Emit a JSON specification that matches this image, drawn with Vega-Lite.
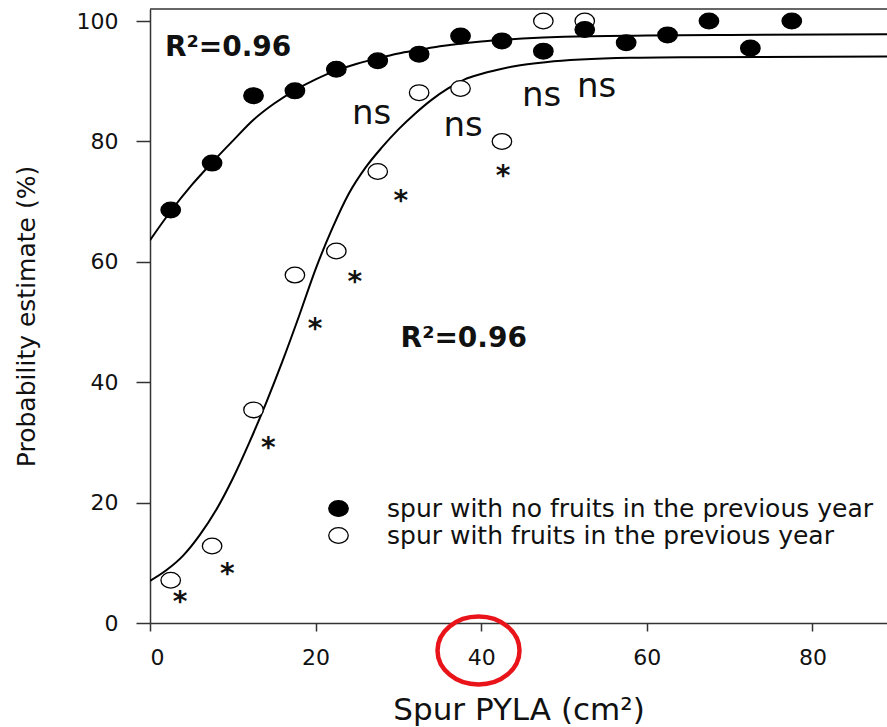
{
  "$schema": "https://vega.github.io/schema/vega-lite/v6.json",
  "width": 737,
  "height": 614,
  "autosize": {"type": "none"},
  "padding": {"left": 150, "top": 9, "right": 0, "bottom": 104},
  "background": "white",
  "config": {"view": {"stroke": null}, "font": "DejaVu Sans"},
  "encoding": {
    "x": {
      "field": "x", "type": "quantitative",
      "scale": {"domain": [0, 89], "nice": false, "zero": false},
      "axis": {
        "title": "Spur PYLA (cm²)", "values": [0, 20, 40, 60, 80], "grid": false,
        "domainColor": "#333", "domainWidth": 1.5, "tickColor": "#333", "tickWidth": 1.5, "tickSize": 8,
        "labelFont": "DejaVu Sans", "labelFontSize": 22, "labelColor": "#111", "labelPadding": 16,
        "titleFont": "DejaVu Sans", "titleFontSize": 31, "titleFontWeight": "normal", "titleColor": "#111", "titlePadding": 27
      }
    },
    "y": {
      "field": "y", "type": "quantitative",
      "scale": {"domain": [0, 102], "nice": false, "zero": false},
      "axis": {
        "title": "Probability estimate (%)", "values": [0, 20, 40, 60, 80, 100], "grid": false,
        "domainColor": "#333", "domainWidth": 1.5, "tickColor": "#333", "tickWidth": 1.5, "tickSize": 14,
        "labelFont": "DejaVu Sans", "labelFontSize": 22, "labelColor": "#111", "labelPadding": 18,
        "titleFont": "DejaVu Sans", "titleFontSize": 25, "titleFontWeight": "normal", "titleColor": "#111", "titlePadding": 37
      }
    }
  },
  "layer": [
    {
      "data": {"values": [{"x": 0, "x2": 89, "y": 102}]},
      "mark": {"type": "rule", "color": "#333", "strokeWidth": 1.5},
      "encoding": {"x2": {"field": "x2"}}
    },
    {
      "data": {"values": [{"x": 39.67, "y": -4.57}]},
      "mark": {
        "type": "point", "filled": false, "opacity": 1, "stroke": "#e8141a", "strokeWidth": 4.5, "size": 6724,
        "shape": "M1,0C1,0.458,0.552,0.83,0,0.83C-0.552,0.83,-1,0.458,-1,0C-1,-0.458,-0.552,-0.83,0,-0.83C0.552,-0.83,1,-0.458,1,0Z"
      }
    },
    {
      "data": {"values": [
        {"x": 0, "y": 63.6, "curve": "no fruits"},
        {"x": 2.5, "y": 68.4, "curve": "no fruits"},
        {"x": 5, "y": 72.7, "curve": "no fruits"},
        {"x": 7.5, "y": 76.5, "curve": "no fruits"},
        {"x": 10, "y": 80.1, "curve": "no fruits"},
        {"x": 12.5, "y": 83.6, "curve": "no fruits"},
        {"x": 15, "y": 86.3, "curve": "no fruits"},
        {"x": 17.5, "y": 88.5, "curve": "no fruits"},
        {"x": 20, "y": 90.3, "curve": "no fruits"},
        {"x": 22.5, "y": 91.8, "curve": "no fruits"},
        {"x": 25, "y": 92.9, "curve": "no fruits"},
        {"x": 27.5, "y": 93.8, "curve": "no fruits"},
        {"x": 30, "y": 94.6, "curve": "no fruits"},
        {"x": 32.5, "y": 95.2, "curve": "no fruits"},
        {"x": 35, "y": 95.8, "curve": "no fruits"},
        {"x": 40, "y": 96.6, "curve": "no fruits"},
        {"x": 45, "y": 97.1, "curve": "no fruits"},
        {"x": 50, "y": 97.4, "curve": "no fruits"},
        {"x": 60, "y": 97.6, "curve": "no fruits"},
        {"x": 70, "y": 97.7, "curve": "no fruits"},
        {"x": 89, "y": 97.8, "curve": "no fruits"},
        {"x": 0, "y": 7.0, "curve": "fruits"},
        {"x": 2, "y": 8.8, "curve": "fruits"},
        {"x": 4, "y": 11.2, "curve": "fruits"},
        {"x": 6, "y": 14.6, "curve": "fruits"},
        {"x": 8, "y": 18.8, "curve": "fruits"},
        {"x": 10, "y": 24.0, "curve": "fruits"},
        {"x": 12, "y": 30.0, "curve": "fruits"},
        {"x": 14, "y": 36.5, "curve": "fruits"},
        {"x": 16, "y": 43.5, "curve": "fruits"},
        {"x": 18, "y": 51.0, "curve": "fruits"},
        {"x": 20, "y": 58.8, "curve": "fruits"},
        {"x": 22, "y": 65.5, "curve": "fruits"},
        {"x": 24, "y": 71.3, "curve": "fruits"},
        {"x": 26, "y": 75.6, "curve": "fruits"},
        {"x": 28, "y": 79.0, "curve": "fruits"},
        {"x": 30, "y": 82.0, "curve": "fruits"},
        {"x": 32, "y": 84.6, "curve": "fruits"},
        {"x": 34, "y": 86.9, "curve": "fruits"},
        {"x": 36, "y": 88.8, "curve": "fruits"},
        {"x": 38, "y": 90.3, "curve": "fruits"},
        {"x": 40, "y": 91.2, "curve": "fruits"},
        {"x": 42, "y": 91.9, "curve": "fruits"},
        {"x": 44, "y": 92.5, "curve": "fruits"},
        {"x": 48, "y": 93.2, "curve": "fruits"},
        {"x": 52, "y": 93.6, "curve": "fruits"},
        {"x": 58, "y": 93.9, "curve": "fruits"},
        {"x": 65, "y": 94.0, "curve": "fruits"},
        {"x": 89, "y": 94.1, "curve": "fruits"}
      ]},
      "mark": {"type": "line", "color": "black", "strokeWidth": 2, "interpolate": "monotone", "clip": true},
      "encoding": {"detail": {"field": "curve"}}
    },
    {
      "data": {"values": [
        {"x": 2.5, "y": 7.1, "group": "spur with fruits in the previous year"},
        {"x": 7.5, "y": 12.8, "group": "spur with fruits in the previous year"},
        {"x": 12.5, "y": 35.4, "group": "spur with fruits in the previous year"},
        {"x": 17.5, "y": 57.8, "group": "spur with fruits in the previous year"},
        {"x": 22.5, "y": 61.8, "group": "spur with fruits in the previous year"},
        {"x": 27.5, "y": 75.0, "group": "spur with fruits in the previous year"},
        {"x": 32.5, "y": 88.1, "group": "spur with fruits in the previous year"},
        {"x": 37.5, "y": 88.8, "group": "spur with fruits in the previous year"},
        {"x": 42.5, "y": 80.0, "group": "spur with fruits in the previous year"},
        {"x": 47.5, "y": 100, "group": "spur with fruits in the previous year"},
        {"x": 52.5, "y": 100, "group": "spur with fruits in the previous year"},
        {"x": 2.5, "y": 68.6, "group": "spur with no fruits in the previous year"},
        {"x": 7.5, "y": 76.4, "group": "spur with no fruits in the previous year"},
        {"x": 12.5, "y": 87.6, "group": "spur with no fruits in the previous year"},
        {"x": 17.5, "y": 88.4, "group": "spur with no fruits in the previous year"},
        {"x": 22.5, "y": 92.0, "group": "spur with no fruits in the previous year"},
        {"x": 27.5, "y": 93.4, "group": "spur with no fruits in the previous year"},
        {"x": 32.5, "y": 94.5, "group": "spur with no fruits in the previous year"},
        {"x": 37.5, "y": 97.5, "group": "spur with no fruits in the previous year"},
        {"x": 42.5, "y": 96.7, "group": "spur with no fruits in the previous year"},
        {"x": 47.5, "y": 95.0, "group": "spur with no fruits in the previous year"},
        {"x": 52.5, "y": 98.6, "group": "spur with no fruits in the previous year"},
        {"x": 57.5, "y": 96.4, "group": "spur with no fruits in the previous year"},
        {"x": 62.5, "y": 97.7, "group": "spur with no fruits in the previous year"},
        {"x": 67.5, "y": 100, "group": "spur with no fruits in the previous year"},
        {"x": 72.5, "y": 95.5, "group": "spur with no fruits in the previous year"},
        {"x": 77.5, "y": 100, "group": "spur with no fruits in the previous year"}
      ]},
      "mark": {
        "type": "point", "filled": true, "opacity": 1, "stroke": "black", "strokeWidth": 1.3, "size": 380,
        "shape": "M1,0C1,0.445,0.552,0.806,0,0.806C-0.552,0.806,-1,0.445,-1,0C-1,-0.445,-0.552,-0.806,0,-0.806C0.552,-0.806,1,-0.445,1,0Z"
      },
      "encoding": {
        "fill": {
          "field": "group", "type": "nominal", "sort": null,
          "scale": {"domain": ["spur with no fruits in the previous year", "spur with fruits in the previous year"], "range": ["black", "white"]},
          "legend": {
            "orient": "none", "legendX": 176, "legendY": 487, "title": null, "padding": 0,
            "symbolType": "M1,0C1,0.445,0.552,0.806,0,0.806C-0.552,0.806,-1,0.445,-1,0C-1,-0.445,-0.552,-0.806,0,-0.806C0.552,-0.806,1,-0.445,1,0Z",
            "symbolSize": 380, "symbolStrokeColor": "black", "symbolStrokeWidth": 1.3, "symbolOpacity": 1,
            "labelFont": "DejaVu Sans", "labelFontSize": 25, "labelColor": "#111", "labelOffset": 36, "labelLimit": 1000, "rowPadding": 1
          }
        }
      }
    },
    {
      "data": {"values": [
        {"x": 1.8, "y": 94.2, "label": "R²=0.96"},
        {"x": 30.26, "y": 45.8, "label": "R²=0.96"}
      ]},
      "mark": {"type": "text", "font": "DejaVu Sans", "fontSize": 28, "fontWeight": "bold", "align": "left", "baseline": "alphabetic", "color": "#111"},
      "encoding": {"text": {"field": "label"}}
    },
    {
      "data": {"values": [
        {"x": 26.76, "y": 82.84, "label": "ns"},
        {"x": 37.82, "y": 80.9, "label": "ns"},
        {"x": 47.28, "y": 85.93, "label": "ns"},
        {"x": 53.92, "y": 87.33, "label": "ns"}
      ]},
      "mark": {"type": "text", "font": "DejaVu Sans", "fontSize": 34, "align": "center", "baseline": "alphabetic", "color": "#111"},
      "encoding": {"text": {"field": "label"}}
    },
    {
      "data": {"values": [
        {"x": 3.62, "y": 4.65, "label": "*"},
        {"x": 9.33, "y": 9.25, "label": "*"},
        {"x": 14.28, "y": 30.28, "label": "*"},
        {"x": 19.92, "y": 50.0, "label": "*"},
        {"x": 24.74, "y": 57.8, "label": "*"},
        {"x": 30.3, "y": 71.2, "label": "*"},
        {"x": 42.64, "y": 75.5, "label": "*"}
      ]},
      "mark": {"type": "text", "font": "DejaVu Sans", "fontSize": 28, "fontWeight": "bold", "align": "center", "baseline": "middle", "dy": 8, "color": "#111"},
      "encoding": {"text": {"field": "label"}}
    }
  ]
}
